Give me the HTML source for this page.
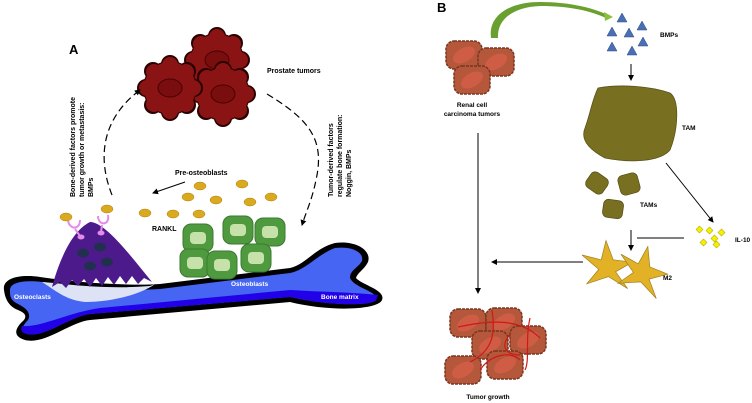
<!DOCTYPE html>
<html><head><meta charset="utf-8"><style>
html,body{margin:0;padding:0;background:#fff;width:752px;height:403px;overflow:hidden}
svg{display:block}
text{font-family:"Liberation Sans",Arial,sans-serif;font-weight:bold}
</style></head><body>
<svg width="752" height="403" viewBox="0 0 752 403" xmlns="http://www.w3.org/2000/svg">
<defs>
<marker id="ah" markerWidth="6" markerHeight="6" refX="5" refY="3" orient="auto" markerUnits="userSpaceOnUse"><path d="M0,0 L6,3 L0,6 z" fill="#000"/></marker>
<g id="pc">
 <circle r="27" fill="#2a0000"/>
 <g fill="#2a0000"><circle cx="0" cy="-24" r="9"/><circle cx="17" cy="-17" r="9"/><circle cx="24" cy="0" r="9"/><circle cx="17" cy="17" r="9"/><circle cx="0" cy="24" r="9"/><circle cx="-17" cy="17" r="9"/><circle cx="-24" cy="0" r="9"/><circle cx="-17" cy="-17" r="9"/></g>
 <circle r="26" fill="#8a1414"/>
 <g fill="#8a1414"><circle cx="0" cy="-23" r="8"/><circle cx="16" cy="-16" r="8"/><circle cx="23" cy="0" r="8"/><circle cx="16" cy="16" r="8"/><circle cx="0" cy="23" r="8"/><circle cx="-16" cy="16" r="8"/><circle cx="-23" cy="0" r="8"/><circle cx="-16" cy="-16" r="8"/></g>
 <ellipse rx="12" ry="9" fill="#7a0e0e" stroke="#4a0000" stroke-width="1"/>
</g>
<g id="rc">
 <rect x="-18" y="-14" width="36" height="28" rx="8" fill="#b4573a" stroke="#7a3520" stroke-width="1.5" stroke-dasharray="3 1"/>
 <ellipse rx="12" ry="7" fill="#cf5d45" transform="rotate(-30)"/>
</g>
<g id="gc">
 <rect x="-15" y="-14" width="30" height="28" rx="8" fill="#4f9a3f" stroke="#3a7a30" stroke-width="1"/>
 <rect x="-8" y="-6" width="16" height="12" rx="4" fill="#c6e2aa"/>
</g>
<g id="star"><path d="M0,-22 L6,-6 L22,-4 L8,4 L18,18 L2,8 L-16,14 L-6,2 L-20,-10 L-4,-6 z" fill="#e2b126" stroke="#a08020" stroke-width="0.6"/></g>
</defs>

<!-- Panel A -->
<text x="69" y="54" font-size="13">A</text>
<use href="#pc" x="217" y="60"/>
<use href="#pc" x="223" y="94"/>
<use href="#pc" x="170" y="88"/>
<text x="267" y="73" font-size="7">Prostate tumors</text>

<path d="M112,195 C98,160 100,120 140,90" fill="none" stroke="#000" stroke-width="1.2" stroke-dasharray="7 4" marker-end="url(#ah)"/>
<path d="M267,94 C310,120 325,140 316,180 C312,200 306,212 302,225" fill="none" stroke="#000" stroke-width="1.2" stroke-dasharray="7 4" marker-end="url(#ah)"/>

<g font-size="7">
<text transform="translate(75,197) rotate(-90)">Bone-derived factors promote</text>
<text transform="translate(84,197) rotate(-90)">tumor growth or metastasis:</text>
<text transform="translate(93,197) rotate(-90)">BMPs</text>
<text transform="translate(333,197) rotate(-90)">Tumor-derived factors</text>
<text transform="translate(342,197) rotate(-90)">regulate bone formation:</text>
<text transform="translate(351,197) rotate(-90)">Noggin, BMPs</text>
</g>

<text x="175" y="175" font-size="7">Pre-osteoblasts</text>
<line x1="185" y1="182" x2="153" y2="193" stroke="#000" stroke-width="1" marker-end="url(#ah)"/>
<text x="152" y="231" font-size="7">RANKL</text>

<!-- bone -->
<path d="M4,290 C2,278 20,274 40,277 C80,283 130,286 160,284 L290,268 C305,265 315,248 335,243 C355,240 372,250 368,262 C364,270 358,272 356,278 C362,285 386,290 382,300 C378,310 330,312 290,302 L90,320 C70,322 45,345 25,340 C12,336 15,328 24,320 C28,314 22,312 18,310 C8,306 5,298 4,290 z" fill="#000"/>
<path d="M10,290 C10,282 25,280 42,282 C80,288 130,291 160,289 L290,273 C306,270 318,254 335,248 C352,246 364,252 362,261 C358,268 350,270 350,278 C354,288 380,292 376,300 C372,306 330,306 290,297 L90,314 C68,317 45,338 27,334 C20,332 22,326 28,320 C32,312 24,307 18,304 C10,300 10,296 10,290 z" fill="#4565f2"/>
<path d="M376,300 C372,306 330,306 290,297 L90,314 C68,317 45,338 27,334 C22,333 20,330 22,326 C40,328 70,312 100,308 L290,290 C320,292 350,292 378,295 z" fill="#2200e8"/>
<path d="M42,282 C60,283 100,290 150,286 L155,284 C140,295 110,302 85,302 C65,300 55,290 42,282 z" fill="#dde3f5"/>

<!-- osteoclast -->
<path d="M52,287 C58,265 70,232 90,222 C105,222 130,255 152,282 L144,278 L138,284 L132,276 L126,284 L120,276 L114,285 L108,277 L102,286 L96,278 L90,287 L84,279 L78,286 L72,280 L66,288 L60,282 z" fill="#4d1a8c"/>
<g fill="#223050"><ellipse cx="83" cy="253" rx="6" ry="4.5"/><ellipse cx="100" cy="247" rx="6" ry="4.5"/><ellipse cx="107" cy="262" rx="6" ry="4.5"/><ellipse cx="90" cy="266" rx="6" ry="4.5"/></g>
<g fill="none" stroke="#e68ce8" stroke-width="2"><path d="M68,221 C70,230 80,230 80,220"/><path d="M98,216 C98,226 110,226 108,215"/><line x1="75" y1="229" x2="80" y2="236"/><line x1="102" y1="225" x2="101" y2="232"/></g>
<g fill="#e68ce8"><ellipse cx="81" cy="237" rx="3.5" ry="2.5"/><ellipse cx="101" cy="233" rx="3.5" ry="2.5"/></g>

<!-- RANKL dots -->
<g fill="#d9a91e" stroke="#b08010" stroke-width="0.5">
<ellipse cx="66" cy="217" rx="6" ry="4"/><ellipse cx="107" cy="209" rx="6" ry="4"/>
<ellipse cx="200" cy="186" rx="6" ry="4"/><ellipse cx="242" cy="184" rx="6" ry="4"/><ellipse cx="188" cy="197" rx="6" ry="4"/><ellipse cx="216" cy="200" rx="6" ry="4"/><ellipse cx="250" cy="202" rx="6" ry="4"/><ellipse cx="271" cy="197" rx="6" ry="4"/><ellipse cx="145" cy="213" rx="6" ry="4"/><ellipse cx="173" cy="214" rx="6" ry="4"/><ellipse cx="199" cy="214" rx="6" ry="4"/>
</g>

<!-- osteoblasts -->
<use href="#gc" x="198" y="238"/>
<use href="#gc" x="238" y="230"/>
<use href="#gc" x="270" y="232"/>
<use href="#gc" x="195" y="263"/>
<use href="#gc" x="222" y="265"/>
<use href="#gc" x="256" y="258"/>

<g font-size="6.5" fill="#fff">
<text x="14" y="299">Osteoclasts</text>
<text x="231" y="286">Osteoblasts</text>
<text x="321" y="299">Bone matrix</text>
</g>

<!-- Panel B -->
<text x="437" y="12" font-size="13">B</text>
<path d="M491,38 C488,15 510,2 540,2 C570,2 595,8 612,17 L608,19 C592,11 570,6 540,6 C515,7 497,18 498,38 z" fill="#6aa030"/>
<path d="M604,12 L613,17 L605,21 z" fill="#8ac040"/>
<use href="#rc" x="464" y="55"/>
<use href="#rc" x="496" y="62"/>
<use href="#rc" x="472" y="80"/>
<text x="472" y="107" font-size="6.5" text-anchor="middle">Renal cell</text>
<text x="472" y="116" font-size="6.5" text-anchor="middle">carcinoma tumors</text>

<g fill="#4a6fb5" stroke="#2a4a8a" stroke-width="0.5">
<path d="M622,13 l5,9 h-10z"/><path d="M642,21 l5,9 h-10z"/><path d="M612,27 l5,9 h-10z"/><path d="M629,28 l5,9 h-10z"/><path d="M612,42 l5,9 h-10z"/><path d="M643,37 l5,9 h-10z"/><path d="M632,46 l5,9 h-10z"/>
</g>
<text x="660" y="37" font-size="6.5">BMPs</text>
<line x1="631" y1="64" x2="631" y2="80" stroke="#000" stroke-width="1" marker-end="url(#ah)"/>

<path d="M598,88 C620,84 650,86 670,93 C680,100 678,130 670,150 C660,162 630,163 605,158 C590,150 580,140 585,128 C590,115 592,100 598,88 z" fill="#787020" stroke="#5a5218" stroke-width="0.8"/>
<text x="682" y="130" font-size="6.5">TAM</text>
<g fill="#787020" stroke="#5a5218" stroke-width="0.8">
<rect x="587" y="174" width="20" height="18" rx="5" transform="rotate(35 597 183)"/>
<rect x="619" y="174" width="20" height="20" rx="5" transform="rotate(-15 629 184)"/>
<rect x="603" y="200" width="20" height="18" rx="5" transform="rotate(8 613 209)"/>
</g>
<text x="640" y="207" font-size="6.5">TAMs</text>
<line x1="666" y1="163" x2="713" y2="222" stroke="#000" stroke-width="1" marker-end="url(#ah)"/>
<g fill="#f5f000" stroke="#b0a000" stroke-width="0.5">
<rect x="697" y="227" width="5" height="5" transform="rotate(45 699.5 229.5)"/><rect x="707" y="228" width="5" height="5" transform="rotate(45 709.5 230.5)"/><rect x="719" y="230" width="5" height="5" transform="rotate(45 721.5 232.5)"/><rect x="712" y="236" width="5" height="5" transform="rotate(45 714.5 238.5)"/><rect x="701" y="240" width="5" height="5" transform="rotate(45 703.5 242.5)"/><rect x="714" y="242" width="5" height="5" transform="rotate(45 716.5 244.5)"/>
</g>
<text x="735" y="242" font-size="6.5">IL-10</text>
<line x1="684" y1="238" x2="637" y2="238" stroke="#000" stroke-width="1"/>
<line x1="631" y1="230" x2="631" y2="250" stroke="#000" stroke-width="1" marker-end="url(#ah)"/>
<use href="#star" transform="translate(606,267) scale(1.2)"/>
<use href="#star" transform="translate(641,272) scale(1.2) rotate(15)"/>
<text x="663" y="280" font-size="6.5">M2</text>
<line x1="583" y1="262" x2="492" y2="262" stroke="#000" stroke-width="1" marker-end="url(#ah)"/>
<line x1="478" y1="133" x2="478" y2="293" stroke="#000" stroke-width="1" marker-end="url(#ah)"/>

<use href="#rc" x="468" y="323"/>
<use href="#rc" x="504" y="322"/>
<use href="#rc" x="528" y="340"/>
<use href="#rc" x="490" y="345"/>
<use href="#rc" x="463" y="370"/>
<use href="#rc" x="505" y="365"/>
<g fill="none" stroke="#d01818" stroke-width="1.2">
<path d="M458,327 C490,320 520,318 540,338"/><path d="M492,310 C495,330 495,350 470,362"/><path d="M530,318 C525,340 530,360 525,370"/><path d="M480,370 C490,355 510,350 520,360"/><path d="M510,335 C500,345 505,355 520,355"/>
</g>
<text x="488" y="399" font-size="6.5" text-anchor="middle">Tumor growth</text>
</svg>
</body></html>
